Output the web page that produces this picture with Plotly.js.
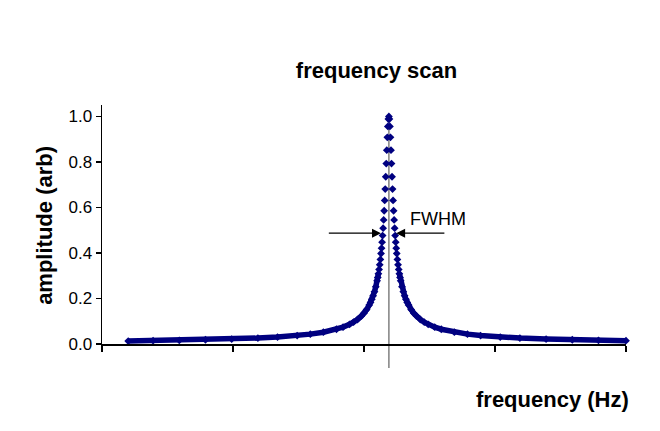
<!DOCTYPE html>
<html><head><meta charset="utf-8">
<script src="https://cdn.plot.ly/plotly-3.0.1.min.js"></script>
<style>html,body{margin:0;padding:0;background:#fff}#chart{width:660px;height:431px}</style>
</head><body><div id="chart"></div>
<script>
// frequency (arbitrary units along the unlabeled x axis)
const freq = [20, 39, 59, 79, 99, 119, 134, 149, 159, 169, 179, 184, 189, 192, 195, 198, 200, 202, 204, 205,
  206, 207, 208, 209, 210, 210.5, 211, 211.5, 212, 212.5, 213, 213.4, 213.8, 214.2, 214.6, 215, 215.4, 215.8,
  216.2, 216.6, 217, 217.4, 217.8, 218.2, 218.6, 219,
  219.4, 219.8, 220.2, 220.6, 221, 221.4, 221.8, 222.2, 222.6, 223, 223.4, 223.8, 224.2, 224.6, 225, 225.5,
  226, 226.5, 227, 227.5, 228, 229, 230, 231, 232, 233, 234, 236, 238, 240, 243, 246, 249, 254, 259, 269,
  279, 289, 304, 319, 339, 359, 379, 400];
// amplitude (arb)
const amp = [0.013, 0.0144, 0.0162, 0.0186, 0.0217, 0.026, 0.0306, 0.0371, 0.0433, 0.0519, 0.0649, 0.0741,
  0.0863, 0.0958, 0.1077, 0.1229, 0.1356, 0.1512, 0.1708, 0.1826, 0.1961, 0.2118, 0.230, 0.2516, 0.2775,
  0.2925, 0.3091, 0.3275, 0.3482, 0.3714, 0.3976, 0.4211, 0.4472, 0.4763, 0.5087, 0.545, 0.5855, 0.6306,
  0.6805, 0.7348, 0.7926, 0.8517, 0.908, 0.9558, 0.9885, 1.0,
  0.9885, 0.9558, 0.908, 0.8517, 0.7926, 0.7348, 0.6805, 0.6306, 0.5855, 0.545, 0.5087, 0.4763, 0.4472,
  0.4211, 0.3976, 0.3714, 0.3482, 0.3275, 0.3091, 0.2925, 0.2775, 0.2516, 0.230, 0.2118, 0.1961, 0.1826,
  0.1708, 0.1512, 0.1356, 0.1229, 0.1077, 0.0958, 0.0863, 0.0741, 0.0649, 0.0519, 0.0433, 0.0371, 0.0306,
  0.026, 0.0217, 0.0186, 0.0162, 0.0144];
const xTickVals = [0, 100, 200, 300, 400];
const yTickVals = [0, 0.2, 0.4, 0.6, 0.8, 1.0];
const chartTitle = 'frequency scan';
const xTitle = 'frequency (Hz)';
const yTitle = 'amplitude (arb)';
const fwhmLabel = 'FWHM';
const halfLevel = 0.487;                 // level of the FWHM arrows
const fwhmLeftArrow = [172, 213];        // [tail, tip] in frequency
const fwhmRightArrow = [262.5, 224.5];   // [tail, tip] in frequency

const FONT = 'Liberation Sans, Arial, sans-serif';
const NAVY = '#000080';

// peak position from the data
let peakIdx = 0;
amp.forEach((v, i) => { if (v > amp[peakIdx]) peakIdx = i; });
const peakFreq = freq[peakIdx];

// tails drawn as a thick band (dense overlapping markers in the original)
const lineX = [], lineY = [];
let gapAdded = false;
freq.forEach((f, i) => {
  if (Math.abs(f - peakFreq) >= 8) {
    if (f > peakFreq && !gapAdded) { lineX.push(null); lineY.push(null); gapAdded = true; }
    lineX.push(f); lineY.push(amp[i]);
  }
});

const traces = [
  { x: lineX, y: lineY, type: 'scatter', mode: 'lines', connectgaps: false,
    line: { color: NAVY, width: 5.5 }, hoverinfo: 'skip', showlegend: false },
  { x: freq, y: amp, type: 'scatter', mode: 'markers', cliponaxis: false,
    marker: { symbol: 'diamond', size: 6, color: NAVY, line: { width: 0 } }, showlegend: false }
];

const arrowCommon = { text: '', showarrow: true, arrowhead: 2, arrowsize: 1.5, arrowwidth: 1.2,
  arrowcolor: '#000', xref: 'x', yref: 'y', axref: 'x', ayref: 'y' };

const layout = {
  width: 660, height: 431,
  margin: { l: 102, r: 34, t: 105, b: 87 },
  paper_bgcolor: '#fff', plot_bgcolor: '#fff',
  font: { family: FONT, color: '#000' },
  title: { text: chartTitle, font: { size: 22, weight: 700, family: FONT, color: '#000' },
    x: 0.524, xref: 'paper', xanchor: 'center', y: 0.838, yref: 'container', yanchor: 'middle' },
  xaxis: { range: [0, 400], tickvals: xTickVals, showticklabels: false, ticks: 'outside', ticklen: 6,
    tickwidth: 1.5, tickcolor: '#000', showline: true, linecolor: '#000', linewidth: 1.5,
    showgrid: false, zeroline: false, fixedrange: true },
  yaxis: { range: [0, 1.05], tickvals: yTickVals, tickformat: '.1f', ticks: 'outside', ticklen: 5,
    tickwidth: 1.5, tickcolor: '#000', showline: true, linecolor: '#000', linewidth: 1.5,
    showgrid: false, zeroline: false, tickfont: { size: 17, family: FONT, color: '#000' }, fixedrange: true },
  shapes: [
    { type: 'line', xref: 'x', yref: 'paper', x0: peakFreq, x1: peakFreq, y0: -0.1, y1: 0.955,
      line: { color: '#808080', width: 1.5 }, layer: 'below' }
  ],
  annotations: [
    Object.assign({}, arrowCommon, { x: fwhmLeftArrow[1], y: halfLevel, ax: fwhmLeftArrow[0], ay: halfLevel }),
    Object.assign({}, arrowCommon, { x: fwhmRightArrow[1], y: halfLevel, ax: fwhmRightArrow[0], ay: halfLevel }),
    { text: fwhmLabel, showarrow: false, xref: 'x', yref: 'y', x: 233.5, y: 0.548, xanchor: 'left', yanchor: 'middle',
      font: { size: 18, family: FONT, color: '#000' } },
    { text: xTitle, showarrow: false, xref: 'paper', yref: 'paper', x: 1.01, y: -0.232, xanchor: 'right', yanchor: 'middle',
      font: { size: 22, weight: 700, family: FONT, color: '#000' } },
    { text: yTitle, showarrow: false, xref: 'paper', yref: 'paper', x: -0.109, y: 0.498, xanchor: 'center', yanchor: 'middle',
      textangle: -90, font: { size: 22, weight: 700, family: FONT, color: '#000' } }
  ]
};

Plotly.newPlot('chart', traces, layout, { staticPlot: true, displayModeBar: false });
</script>
</body></html>
